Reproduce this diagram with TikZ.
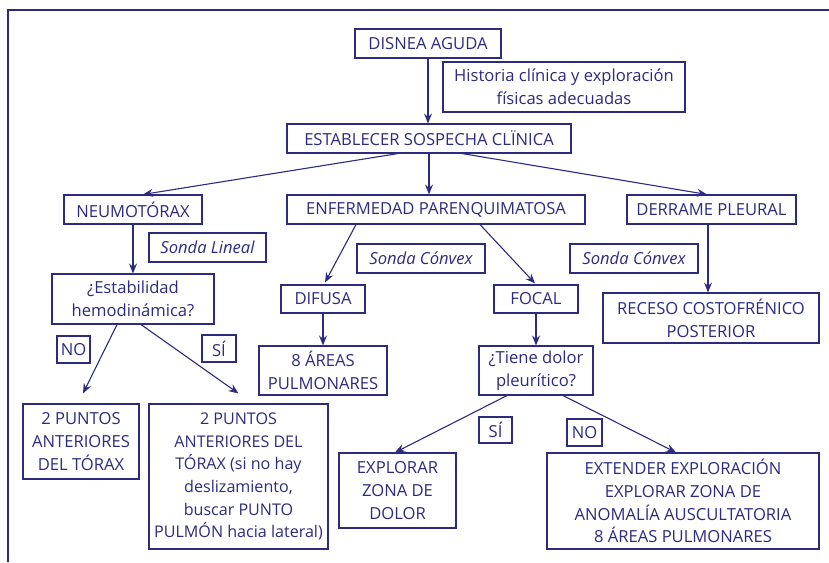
\documentclass[tikz,border=0pt]{standalone}
\usepackage{fontspec}
\setmainfont{Open Sans}
\usetikzlibrary{arrows.meta,calc}
\definecolor{navy}{HTML}{2D2B7F}
\begin{document}
\begin{tikzpicture}[x=1pt,y=-1pt,
  box/.style={draw=navy,line width=1.1pt,text=navy,inner sep=0pt,align=center,
    font=\fontsize{16.6}{22.7}\selectfont},
  arr/.style={draw=navy,line width=1.1pt,-{Stealth[length=10pt,width=8pt,inset=3.5pt]}}]
\useasboundingbox (0,0) rectangle (829,562);
\fill[white] (0,0) rectangle (829,562);
\draw[navy,line width=2.4pt] (8,562) -- (8,10) -- (829,10);
% nodes
\node[box,minimum width=146pt,minimum height=29pt] (disnea) at (428,43.5) {DISNEA AGUDA};
\node[box,minimum width=242pt,minimum height=50pt] (hist) at (564,87) {Historia clínica y exploración\\físicas adecuadas};
\node[box,minimum width=284pt,minimum height=29pt] (est) at (429,138.5) {ESTABLECER SOSPECHA CLÏNICA};
\node[box,minimum width=138pt,minimum height=29pt] (neumo) at (133,209.5) {NEUMOTÓRAX};
\node[box,minimum width=298pt,minimum height=29pt] (enf) at (436,209.5) {ENFERMEDAD PARENQUIMATOSA};
\node[box,minimum width=169pt,minimum height=29pt] (derr) at (711.5,209.5) {DERRAME PLEURAL};
\node[box,minimum width=117pt,minimum height=29pt] (sl) at (207.5,247.5) {\itshape Sonda Lineal};
\node[box,minimum width=162pt,minimum height=50pt] (estab) at (133,299) {¿Estabilidad\\hemodinámica?};
\node[box,minimum width=128pt,minimum height=29pt] (sc1) at (421,258.5) {\itshape Sonda Cónvex};
\node[box,minimum width=128pt,minimum height=29pt] (sc2) at (634,258.5) {\itshape Sonda Cónvex};
\node[box,minimum width=84pt,minimum height=28pt] (difusa) at (323,299) {DIFUSA};
\node[box,minimum width=84pt,minimum height=28pt] (focal) at (536,299) {FOCAL};
\node[box,minimum width=216pt,minimum height=50pt] (receso) at (711,318) {RECESO COSTOFRÉNICO\\POSTERIOR};
\node[box,minimum width=128pt,minimum height=49pt] (areas) at (323,370.5) {8 ÁREAS\\PULMONARES};
\node[box,minimum width=114pt,minimum height=49pt] (tiene) at (536,370.5) {¿Tiene dolor\\pleurítico?};
\node[box,minimum width=33pt,minimum height=27pt] (noa) at (73.5,349.5) {NO};
\node[box,minimum width=34pt,minimum height=27pt] (sia) at (219,348.5) {SÍ};
\node[box,minimum width=33pt,minimum height=26pt] (sib) at (495.5,430) {SÍ};
\node[box,minimum width=35pt,minimum height=27pt] (nob) at (584.5,432.5) {NO};
\node[box,minimum width=116pt,minimum height=75pt] (ptos) at (81,441.5) {2 PUNTOS\\ANTERIORES\\DEL TÓRAX};
\node[box,minimum width=179pt,minimum height=145pt,font=\fontsize{16.1}{22.7}\selectfont] (pbig) at (238.5,476.5) {2 PUNTOS\\ANTERIORES DEL\\TÓRAX (si no hay\\deslizamiento,\\buscar PUNTO\\PULMÓN hacia lateral)};
\node[box,minimum width=117pt,minimum height=75pt] (expl) at (397.5,490.5) {EXPLORAR\\ZONA DE\\DOLOR};
\node[box,minimum width=272pt,minimum height=96pt] (ext) at (683,501) {EXTENDER EXPLORACIÓN\\EXPLORAR ZONA DE\\ANOMALÍA AUSCULTATORIA\\8 ÁREAS PULMONARES};
% connectors
\draw[arr] (disnea.south) -- (disnea.south |- est.north);
\draw[arr] ([xshift=-31pt]est.south) -- ([xshift=10pt]neumo.north);
\draw[arr] (est.south) -- (est.south |- enf.north);
\draw[arr] ([xshift=33pt]est.south) -- ([xshift=-4.5pt]derr.north);
\draw[arr] (neumo.south) -- (neumo.south |- estab.north);
\draw[arr] ([xshift=-16pt]estab.south) -- ($(ptos.north)+(2,-10)$);
\draw[arr] ([xshift=8pt]estab.south) -- ($(pbig.north)+(0,-10)$);
\draw[arr] ([xshift=-80pt]enf.south) -- ([xshift=2pt,yshift=2pt]difusa.north);
\draw[arr] ([xshift=44pt]enf.south) -- ([xshift=-1pt,yshift=1pt]focal.north);
\draw[arr] (difusa.south) -- (difusa.south |- areas.north);
\draw[arr] (focal.south) -- (focal.south |- tiene.north);
\draw[arr] ([xshift=-3.5pt]derr.south) -- ([xshift=-3.5pt]derr.south |- receso.north);
\draw[arr] ([xshift=-29pt]tiene.south) -- ([xshift=-2.5pt]expl.north);
\draw[arr] ([xshift=27pt]tiene.south) -- ([xshift=-7pt]ext.north);
\end{tikzpicture}
\end{document}
